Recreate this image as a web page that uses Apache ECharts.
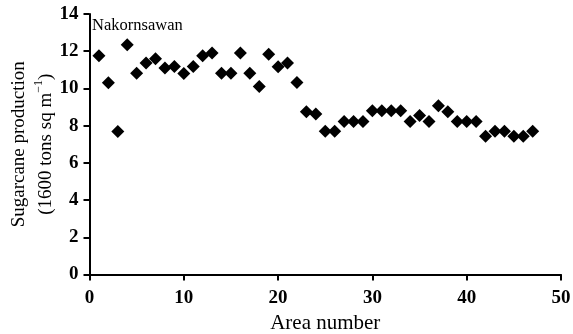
<!DOCTYPE html>
<html>
<head>
<meta charset="utf-8">
<script src="https://cdn.jsdelivr.net/npm/echarts@6/dist/echarts.min.js"></script>
<style>
  html, body { margin: 0; padding: 0; background: #fff; }
  #chart { width: 573px; height: 334px; }
</style>
</head>
<body>
<div id="chart"></div>
<script>
// area number 1..47, production
let areas = [];
for (let i = 1; i <= 47; i++) areas.push(i);

let production = [
  11.75, 10.3, 7.68, 12.35, 10.82, 11.37, 11.6, 11.1, 11.18, 10.8,
  11.18, 11.75, 11.9, 10.82, 10.82, 11.9, 10.82, 10.1, 11.84, 11.16,
  11.36, 10.32, 8.75, 8.63, 7.7, 7.7, 8.22, 8.22, 8.22, 8.8,
  8.8, 8.8, 8.8, 8.22, 8.54, 8.22, 9.07, 8.75, 8.22, 8.22,
  8.22, 7.43, 7.7, 7.7, 7.43, 7.43, 7.7
];

let font = 'Liberation Serif';

let points = areas.map((a, i) => [a, production[i]]);

let option = {
  backgroundColor: '#fff',
  animation: false,
  textStyle: { fontFamily: font },
  grid: {
    left: 89.5,
    right: 12,
    top: 14,
    bottom: 59.5,
    containLabel: false,
    outerBoundsMode: 'none'
  },
  graphic: [{
    type: 'text',
    left: 92,
    top: 17,
    style: {
      text: 'Nakornsawan',
      font: '16.5px "Liberation Serif"',
      fill: '#000'
    }
  }],
  xAxis: {
    type: 'value',
    min: 0,
    max: 50,
    interval: 10,
    name: 'Area number',
    nameLocation: 'middle',
    nameGap: 38,
    nameMoveOverlap: false,
    nameTextStyle: { fontFamily: font, fontSize: 21, color: '#000' },
    axisLine: { lineStyle: { color: '#000', width: 2 } },
    axisTick: { length: 6, lineStyle: { color: '#000', width: 2 } },
    axisLabel: { fontFamily: font, fontSize: 19, fontWeight: 'bold', color: '#000', margin: 14 },
    splitLine: { show: false }
  },
  yAxis: {
    type: 'value',
    min: 0,
    max: 14,
    interval: 2,
    name: 'Sugarcane production\n(1600 tons sq m{sup|\u22121})',
    nameLocation: 'middle',
    nameRotate: 90,
    nameGap: 30,
    nameMoveOverlap: false,
    nameTextStyle: {
      fontFamily: font, fontSize: 19, color: '#000', lineHeight: 27,
      rich: {
        sup: { fontFamily: font, fontSize: 12, verticalAlign: 'top', lineHeight: 12, padding: [0, 0, 8, 0] }
      }
    },
    axisLine: { show: true, lineStyle: { color: '#000', width: 2 } },
    axisTick: { show: true, length: 6, lineStyle: { color: '#000', width: 2 } },
    axisLabel: { fontFamily: font, fontSize: 19, fontWeight: 'bold', color: '#000', margin: 11 },
    splitLine: { show: false }
  },
  series: [{
    type: 'scatter',
    data: points,
    symbol: 'diamond',
    symbolSize: [13, 13],
    itemStyle: { color: '#000', opacity: 1 }
  }]
};

let myChart = echarts.init(document.getElementById('chart'));
myChart.setOption(option);
</script>
</body>
</html>
